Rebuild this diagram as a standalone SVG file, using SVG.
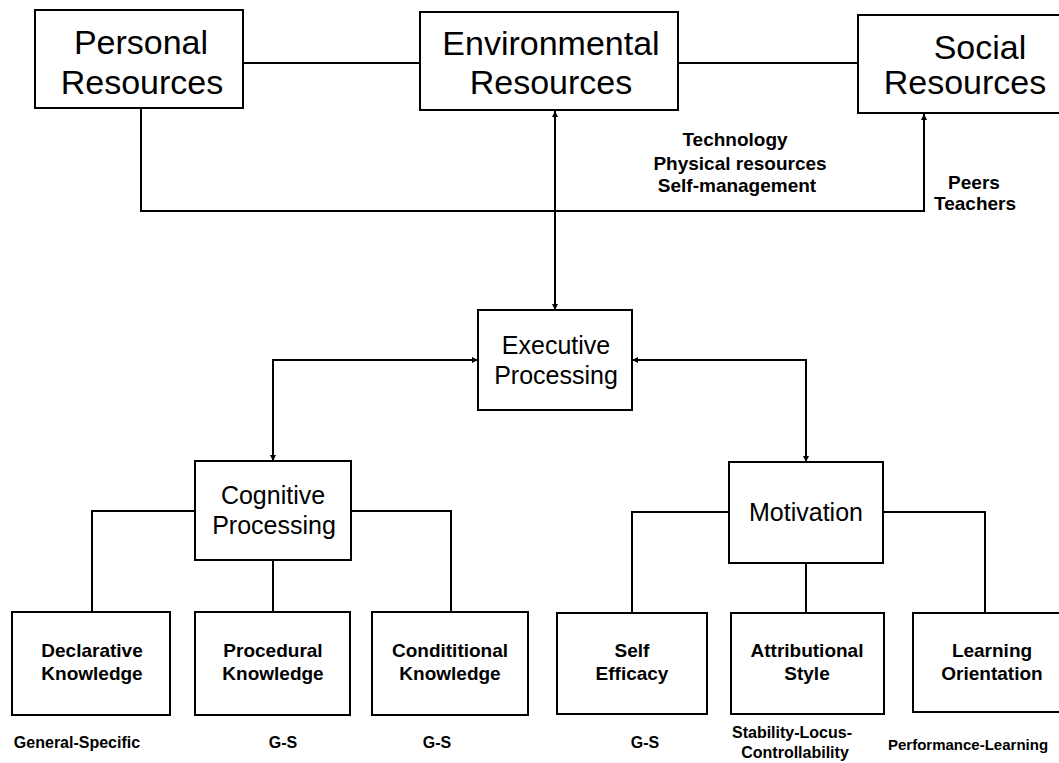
<svg xmlns="http://www.w3.org/2000/svg" width="1059" height="763" viewBox="0 0 1059 763">
<defs>
<marker id="arr" markerUnits="userSpaceOnUse" markerWidth="7" markerHeight="7" refX="6" refY="3.5" orient="auto-start-reverse"><path d="M0,0.5 L6,3.5 L0,6.5 z" fill="#000"/></marker>
<style>
.box{fill:#fff;stroke:#000;stroke-width:2}
.ln{fill:none;stroke:#000;stroke-width:2}
.big{font-family:"Liberation Sans",Arial,sans-serif;font-size:34px;text-anchor:middle;fill:#000}
.mid{font-family:"Liberation Sans",Arial,sans-serif;font-size:25px;text-anchor:middle;fill:#000}
.leaf{font-family:"Liberation Sans",Arial,sans-serif;font-size:19px;font-weight:bold;text-anchor:middle;fill:#000}
.lbl{font-family:"Liberation Sans",Arial,sans-serif;font-size:19px;font-weight:bold;text-anchor:middle;fill:#000}
.sub{font-family:"Liberation Sans",Arial,sans-serif;font-size:16px;font-weight:bold;text-anchor:middle;fill:#000}
</style>
</defs>
<rect width="1059" height="763" fill="#fff"/>
<g id="connectors">
<path class="ln" d="M243 63 H420"/>
<path class="ln" d="M678 63 H858"/>
<path class="ln" d="M141 108 V211 H924 V114" marker-end="url(#arr)"/>
<path class="ln" d="M555 111 V310" marker-start="url(#arr)" marker-end="url(#arr)"/>
<path class="ln" d="M478 360 H273 V461" marker-start="url(#arr)" marker-end="url(#arr)"/>
<path class="ln" d="M632 360 H806 V462" marker-start="url(#arr)" marker-end="url(#arr)"/>
<path class="ln" d="M195 511 H92 V612"/>
<path class="ln" d="M273 560 V612"/>
<path class="ln" d="M351 511 H451 V612"/>
<path class="ln" d="M729 512 H632 V613"/>
<path class="ln" d="M806 563 V613"/>
<path class="ln" d="M883 512 H985 V613"/>
</g>
<g id="personal">
<rect class="box" x="35" y="10" width="208" height="98"/>
<text class="big" x="141" y="54">Personal</text>
<text class="big" x="142" y="94">Resources</text>
</g>
<g id="environmental">
<rect class="box" x="420" y="12" width="258" height="98"/>
<text class="big" x="551" y="55">Environmental</text>
<text class="big" x="551" y="94">Resources</text>
</g>
<g id="social">
<rect class="box" x="858" y="15" width="215" height="98"/>
<text class="big" x="980" y="59">Social</text>
<text class="big" x="965" y="94">Resources</text>
</g>
<g id="env-labels">
<text class="lbl" x="735" y="146">Technology</text>
<text class="lbl" x="740" y="170">Physical resources</text>
<text class="lbl" x="737" y="192">Self-management</text>
</g>
<g id="social-labels">
<text class="lbl" x="974" y="189">Peers</text>
<text class="lbl" x="975" y="210">Teachers</text>
</g>
<g id="executive">
<rect class="box" x="478" y="310" width="154" height="100"/>
<text class="mid" x="556" y="354">Executive</text>
<text class="mid" x="556" y="384">Processing</text>
</g>
<g id="cognitive">
<rect class="box" x="195" y="461" width="156" height="99"/>
<text class="mid" x="273" y="504">Cognitive</text>
<text class="mid" x="274" y="534">Processing</text>
</g>
<g id="motivation">
<rect class="box" x="729" y="462" width="154" height="101"/>
<text class="mid" x="806" y="521">Motivation</text>
</g>
<g id="declarative">
<rect class="box" x="12" y="612" width="158" height="103"/>
<text class="leaf" x="92" y="657">Declarative</text>
<text class="leaf" x="92" y="680">Knowledge</text>
<text class="sub" x="77" y="748">General-Specific</text>
</g>
<g id="procedural">
<rect class="box" x="195" y="612" width="155" height="103"/>
<text class="leaf" x="273" y="657">Procedural</text>
<text class="leaf" x="273" y="680">Knowledge</text>
<text class="sub" x="283" y="748">G-S</text>
</g>
<g id="conditional">
<rect class="box" x="372" y="612" width="156" height="103"/>
<text class="leaf" x="450" y="657">Condititional</text>
<text class="leaf" x="450" y="680">Knowledge</text>
<text class="sub" x="437" y="748">G-S</text>
</g>
<g id="self-efficacy">
<rect class="box" x="557" y="613" width="150" height="101"/>
<text class="leaf" x="632" y="657">Self</text>
<text class="leaf" x="632" y="680">Efficacy</text>
<text class="sub" x="645" y="748">G-S</text>
</g>
<g id="attributional">
<rect class="box" x="731" y="613" width="153" height="101"/>
<text class="leaf" x="807" y="657">Attributional</text>
<text class="leaf" x="807" y="680">Style</text>
<text class="sub" x="792" y="738">Stability-Locus-</text>
<text class="sub" x="795" y="758">Controllability</text>
</g>
<g id="learning">
<rect class="box" x="913" y="613" width="160" height="99"/>
<text class="leaf" x="992" y="657">Learning</text>
<text class="leaf" x="992" y="680">Orientation</text>
<text class="sub" x="888" y="750" style="text-anchor:start;font-size:15px">Performance-Learning</text>
</g>
</svg>
